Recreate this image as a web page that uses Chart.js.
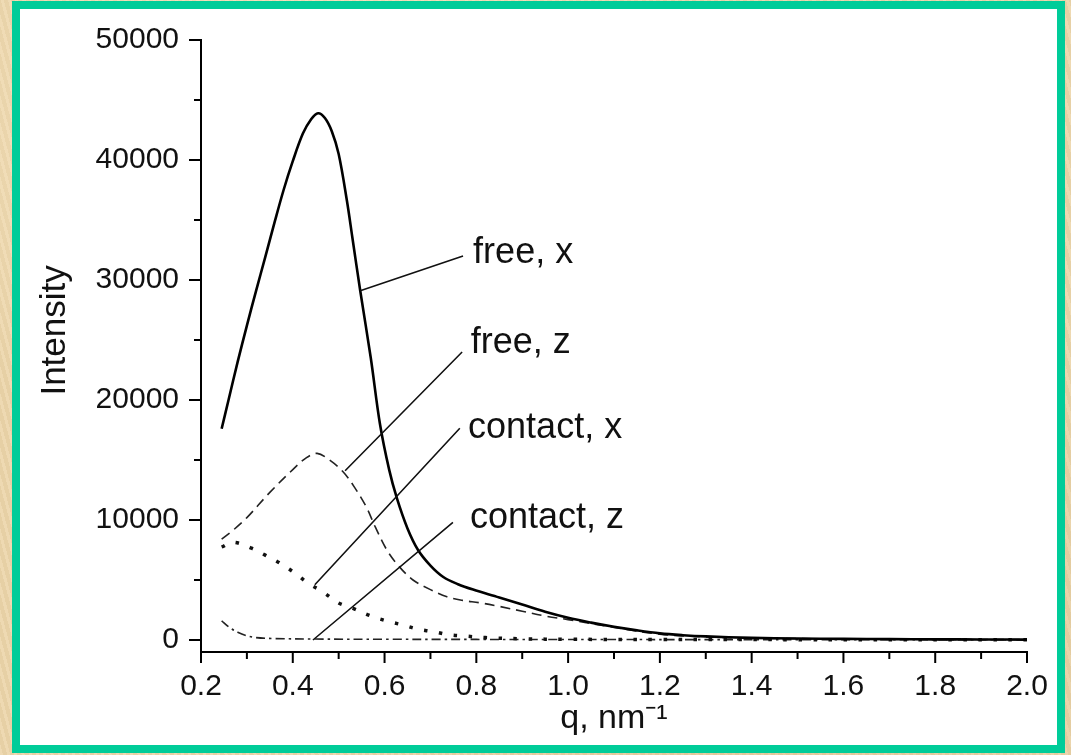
<!DOCTYPE html>
<html>
<head>
<meta charset="utf-8">
<script src="https://cdn.jsdelivr.net/npm/chart.js@4.4.1/dist/chart.umd.min.js"></script>
<style>
  html, body { margin: 0; padding: 0; }
  body {
    width: 1071px; height: 755px; overflow: hidden; position: relative;
    background-color: #ecd5a9;
    background-image:
      radial-gradient(ellipse at 30% 20%, rgba(255,240,210,0.6) 0, rgba(255,240,210,0) 40%),
      radial-gradient(ellipse at 70% 80%, rgba(210,180,130,0.5) 0, rgba(210,180,130,0) 45%),
      repeating-linear-gradient(75deg, rgba(255,255,255,0.10) 0 3px, rgba(0,0,0,0.025) 3px 7px);
  }
  #panel {
    position: absolute; left: 12px; top: 1px; width: 1053px; height: 752px;
    box-sizing: border-box; border: 8px solid #00cc99; background: #fff;
  }
  #chart { position: absolute; left: 0; top: 0; }
</style>
</head>
<body>
<div id="panel"></div>
<canvas id="chart" width="1071" height="755"></canvas>
<script>
// Datos: q (nm^-1) e intensidad
const freeXq = [0.245, 0.26, 0.28, 0.30, 0.32, 0.34, 0.361, 0.38, 0.40, 0.422, 0.44, 0.455, 0.47, 0.485, 0.50, 0.518, 0.53, 0.547, 0.57, 0.59, 0.61, 0.627, 0.65, 0.673, 0.70, 0.728, 0.76, 0.793, 0.85, 0.90, 0.95, 1.0, 1.05, 1.1, 1.15, 1.2, 1.25, 1.3, 1.4, 1.5, 1.6, 1.7, 1.8, 1.9, 2.0];
const freeXI = [17600, 20000, 23200, 26200, 29100, 31900, 34900, 37500, 39900, 42200, 43400, 43900, 43500, 42400, 40500, 36600, 33500, 29100, 23500, 18000, 14200, 11800, 9300, 7500, 6200, 5250, 4650, 4200, 3550, 2950, 2350, 1850, 1450, 1100, 800, 550, 400, 300, 180, 120, 90, 70, 55, 45, 35];

const freeZq = [0.245, 0.27, 0.30, 0.35, 0.40, 0.43, 0.453, 0.48, 0.51, 0.535, 0.56, 0.58, 0.605, 0.63, 0.662, 0.70, 0.736, 0.77, 0.808, 0.85, 0.90, 0.95, 1.0, 1.1, 1.2, 1.3, 1.4, 1.6, 1.8, 2.0];
const freeZI = [8400, 9150, 10200, 12300, 14200, 15200, 15550, 15000, 14000, 12700, 11100, 9400, 7500, 6200, 5000, 4200, 3600, 3300, 3100, 2800, 2400, 2000, 1700, 1050, 480, 260, 160, 85, 55, 35];

const contactXq = [0.245, 0.27, 0.31, 0.34, 0.372, 0.405, 0.433, 0.466, 0.50, 0.53, 0.57, 0.605, 0.64, 0.673, 0.71, 0.743, 0.775, 0.82, 0.90, 1.0, 1.2, 1.5, 2.0];
const contactXI = [7750, 8150, 7650, 7070, 6400, 5570, 4740, 4000, 3080, 2660, 2000, 1580, 1250, 900, 670, 420, 330, 200, 100, 60, 40, 30, 20];

const contactZq = [0.245, 0.26, 0.28, 0.30, 0.32, 0.36, 0.45, 0.6, 1.0, 1.5, 2.0];
const contactZI = [1600, 1100, 650, 350, 200, 120, 80, 60, 40, 30, 20];

// Marcas de los ejes
const xMajorTicks = [0.2, 0.4, 0.6, 0.8, 1.0, 1.2, 1.4, 1.6, 1.8, 2.0];
const xMinorTicks = [0.3, 0.5, 0.7, 0.9, 1.1, 1.3, 1.5, 1.7, 1.9];
const yMajorTicks = [0, 10000, 20000, 30000, 40000, 50000];
const yMinorTicks = [5000, 15000, 25000, 35000, 45000];

// Etiquetas de las curvas y sus líneas guía (en unidades de datos)
const labelTexts = ['free, x', 'free, z', 'contact, x', 'contact, z'];
const labelQ = [0.793, 0.788, 0.782, 0.786];
const labelI = [31400, 23900, 16800, 9300];
const leaderFromQ = [0.547, 0.514, 0.448, 0.444];
const leaderFromI = [29100, 14100, 4600, 0];
const leaderToQ = [0.771, 0.769, 0.764, 0.749];
const leaderToI = [32000, 24000, 17650, 9800];

const yTitle = 'Intensity';
const yTitleAt = 25800; // centro vertical del título, en unidades del eje

const toPoints = (qs, is) => qs.map((q, i) => ({ x: q, y: is[i] }));

const FONT = '"Liberation Sans", Arial, sans-serif';

const axisTicksPlugin = {
  id: 'axisTicks',
  afterDraw(chart) {
    const { ctx, scales: { x, y }, chartArea } = chart;
    ctx.save();
    ctx.strokeStyle = '#000';
    ctx.lineWidth = 2;
    ctx.beginPath();
    xMajorTicks.forEach(v => { const px = x.getPixelForValue(v); ctx.moveTo(px, chartArea.bottom); ctx.lineTo(px, chartArea.bottom + 11); });
    xMinorTicks.forEach(v => { const px = x.getPixelForValue(v); ctx.moveTo(px, chartArea.bottom); ctx.lineTo(px, chartArea.bottom + 7); });
    yMajorTicks.forEach(v => { const py = y.getPixelForValue(v); ctx.moveTo(chartArea.left, py); ctx.lineTo(chartArea.left - 12, py); });
    yMinorTicks.forEach(v => { const py = y.getPixelForValue(v); ctx.moveTo(chartArea.left, py); ctx.lineTo(chartArea.left - 7, py); });
    ctx.stroke();

    // título del eje Y
    ctx.fillStyle = '#111';
    ctx.font = '35px ' + FONT;
    ctx.textAlign = 'center';
    ctx.textBaseline = 'middle';
    ctx.translate(y.left + 55, y.getPixelForValue(yTitleAt));
    ctx.rotate(-Math.PI / 2);
    ctx.fillText(yTitle, 0, 0);
    ctx.restore();
  }
};

const labelsPlugin = {
  id: 'curveLabels',
  afterDatasetsDraw(chart) {
    const { ctx, scales: { x, y } } = chart;
    ctx.save();
    ctx.strokeStyle = '#111';
    ctx.lineWidth = 1.6;
    ctx.beginPath();
    leaderFromQ.forEach((q, i) => {
      ctx.moveTo(x.getPixelForValue(q), y.getPixelForValue(leaderFromI[i]));
      ctx.lineTo(x.getPixelForValue(leaderToQ[i]), y.getPixelForValue(leaderToI[i]));
    });
    ctx.stroke();
    ctx.fillStyle = '#111';
    ctx.font = '36px ' + FONT;
    ctx.textBaseline = 'alphabetic';
    labelTexts.forEach((t, i) => {
      ctx.fillText(t, x.getPixelForValue(labelQ[i]), y.getPixelForValue(labelI[i]));
    });
    ctx.restore();
  }
};

const lineDefaults = { pointRadius: 0, fill: false, tension: 0.35 };

new Chart(document.getElementById('chart'), {
  type: 'line',
  data: {
    datasets: [
      { ...lineDefaults, label: 'free, x', data: toPoints(freeXq, freeXI), borderColor: '#000', borderWidth: 2.6 },
      { ...lineDefaults, label: 'free, z', data: toPoints(freeZq, freeZI), borderColor: '#222', borderWidth: 1.6, borderDash: [10, 6] },
      { ...lineDefaults, label: 'contact, x', data: toPoints(contactXq, contactXI), borderColor: '#111', borderWidth: 3.5, borderDash: [3.5, 11.5] },
      { ...lineDefaults, label: 'contact, z', data: toPoints(contactZq, contactZI), borderColor: '#222', borderWidth: 1.6, borderDash: [9, 4, 2.5, 4] }
    ]
  },
  options: {
    responsive: false,
    animation: false,
    devicePixelRatio: 1,
    layout: { padding: { top: 39, right: 44, left: 0, bottom: 0 } },
    plugins: { legend: { display: false }, tooltip: { enabled: false } },
    scales: {
      x: {
        type: 'linear',
        min: 0.2, max: 2.0,
        afterBuildTicks: s => { s.ticks = xMajorTicks.map(v => ({ value: v })); },
        afterFit: s => { s.height = 103; },
        grid: { display: false, drawTicks: false },
        border: { display: true, color: '#000', width: 2 },
        ticks: {
          autoSkip: false, maxRotation: 0, padding: 17,
          color: '#111', font: { family: FONT, size: 30 },
          callback: v => Number(v).toFixed(1)
        },
        title: {
          display: true, text: 'q, nm\u207B\u00B9', color: '#111',
          font: { family: FONT, size: 34 }, padding: { top: 0, bottom: 16 }
        }
      },
      y: {
        type: 'linear',
        min: -1000, max: 50000,
        afterBuildTicks: s => { s.ticks = yMajorTicks.map(v => ({ value: v })); },
        afterFit: s => { s.width = 201; },
        grid: { display: false, drawTicks: false },
        border: { display: true, color: '#000', width: 2 },
        ticks: {
          padding: 22, color: '#111', font: { family: FONT, size: 30 },
          callback: v => String(v)
        },
        title: { display: false }
      }
    }
  },
  plugins: [axisTicksPlugin, labelsPlugin]
});
</script>
</body>
</html>
